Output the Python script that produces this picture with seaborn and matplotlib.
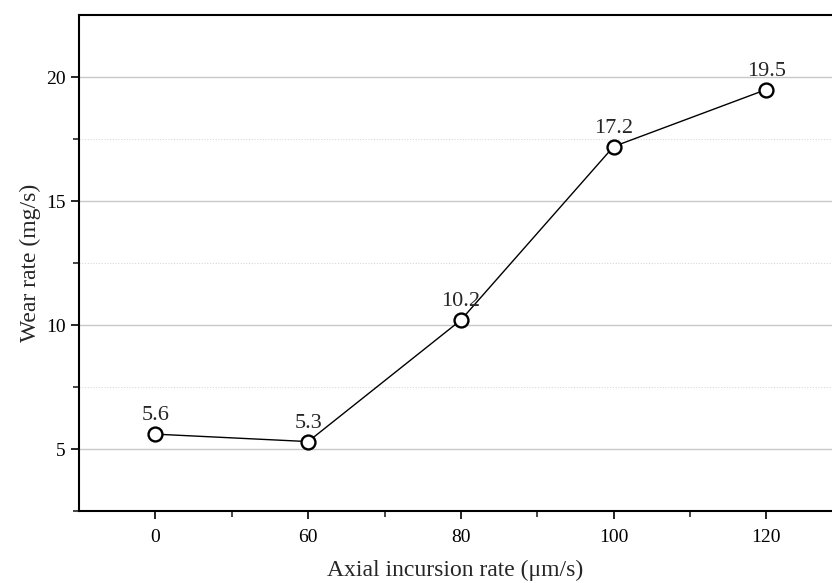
import matplotlib
matplotlib.use("Agg")
import matplotlib.pyplot as plt
import seaborn as sns
import pandas as pd
from matplotlib.ticker import FixedLocator

categories = ["0", "60", "80", "100", "120"]
wear_rate = [5.6, 5.3, 10.2, 17.2, 19.5]
value_labels = ["5.6", "5.3", "10.2", "17.2", "19.5"]

sns.set_style("white")
plt.rcParams["font.family"] = ["Liberation Serif", "DejaVu Serif"]

df = pd.DataFrame({"rate": categories, "wear": wear_rate})

fig = plt.figure(figsize=(8.32, 5.83), dpi=100)
ax = fig.add_axes([0.095, 0.1235, 0.905, 0.8505])

sns.lineplot(data=df, x="rate", y="wear", ax=ax, color="black", linewidth=1.0,
             marker="o", markersize=10, markerfacecolor="white",
             markeredgecolor="black", markeredgewidth=1.7, zorder=3)

for i, (v, t) in enumerate(zip(wear_rate, value_labels)):
    ax.annotate(t, (i, v), xytext=(0, 6.5), textcoords="offset points",
                ha="center", va="bottom", fontsize=16, zorder=4)

ax.set_xlim(-0.5, 4.43)
ax.set_ylim(2.5, 22.5)
ax.yaxis.set_major_locator(FixedLocator([5, 10, 15, 20]))
ax.yaxis.set_minor_locator(FixedLocator([2.5, 7.5, 12.5, 17.5]))
ax.xaxis.set_minor_locator(FixedLocator([0.5, 1.5, 2.5, 3.5]))

ax.grid(True, which="major", axis="y", color="#c8c8c8", linewidth=1.0, linestyle="-")
ax.grid(True, which="minor", axis="y", color="#d8d8d8", linewidth=0.8, linestyle=(0, (1, 1.5)))
ax.grid(False, axis="x", which="both")
ax.set_axisbelow(True)

for s in ["left", "bottom", "top"]:
    ax.spines[s].set_visible(True)
    ax.spines[s].set_color("black")
    ax.spines[s].set_linewidth(1.5)
ax.spines["right"].set_visible(False)

ax.tick_params(axis="both", which="major", direction="out", length=6, width=1.2,
               labelsize=14, colors="black", bottom=True, left=True, top=False, right=False)
ax.tick_params(axis="both", which="minor", direction="out", length=4, width=1.2,
               bottom=True, left=True, top=False, right=False)
ax.tick_params(axis="x", which="major", pad=7)

ax.set_xlabel("Axial incursion rate (μm/s)", fontsize=17, labelpad=10)
ax.set_ylabel("Wear rate (mg/s)", fontsize=17, labelpad=4)

fig.savefig("out.png", dpi=100)
